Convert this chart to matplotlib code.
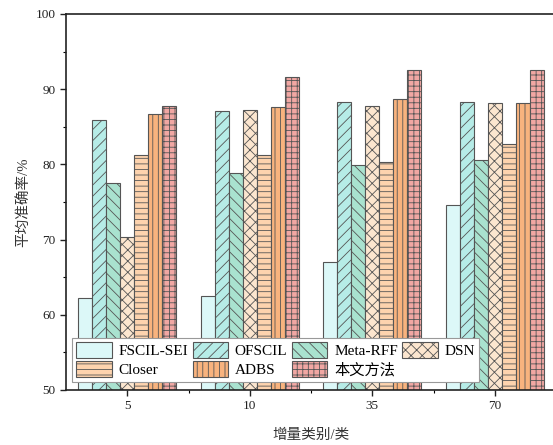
import numpy as np
import matplotlib
matplotlib.use('Agg')
import matplotlib.pyplot as plt
from matplotlib.ticker import MultipleLocator, FixedLocator

plt.rcParams['font.family'] = ['Liberation Serif', 'Noto Sans CJK SC']
plt.rcParams['hatch.linewidth'] = 0.6

categories = ['5', '10', '35', '70']
methods = ['FSCIL-SEI', 'OFSCIL', 'Meta-RFF', 'DSN', 'Closer', 'ADBS', '本文方法']
fscil_sei = [62.3, 62.5, 67.0, 74.6]
ofscil = [85.9, 87.1, 88.3, 88.3]
meta_rff = [77.5, 78.8, 79.9, 80.6]
dsn = [70.4, 87.3, 87.8, 88.1]
closer = [81.3, 81.2, 80.3, 82.7]
adbs = [86.7, 87.6, 88.7, 88.2]
ours = [87.8, 91.6, 92.6, 92.6]

series = [fscil_sei, ofscil, meta_rff, dsn, closer, adbs, ours]
colors = ['#dcf8f8', '#b6ece7', '#a9e2cf', '#fce6cf', '#fdd3ae', '#f8b37e', '#f1a7a3']
hatches = ['', '///', '\\\\\\', 'xxx', '---', '|||', '+++']

fig = plt.figure(figsize=(5.53, 4.45), dpi=100)
ax = fig.add_axes([66/553, 55/445, 490/553, 376/445])

x = np.arange(len(categories))
w = 0.114
bars = []
for i, (vals, c, h, name) in enumerate(zip(series, colors, hatches, methods)):
    b = ax.bar(x + (i - 3) * w, vals, width=w, color=c, hatch=h,
               edgecolor='#555555', linewidth=0.8, label=name, zorder=2)
    bars.append(b)

ax.set_xlim(-0.5, 3.5)
ax.set_ylim(50, 100)
ax.set_xticks(x)
ax.set_xticklabels(categories)
ax.xaxis.set_minor_locator(FixedLocator([0.5, 1.5, 2.5]))
ax.yaxis.set_major_locator(MultipleLocator(10))
ax.yaxis.set_minor_locator(MultipleLocator(5))
ax.tick_params(which='major', direction='out', length=4, width=1, labelsize=9.5, colors='#222222')
ax.tick_params(which='minor', direction='out', length=2, width=0.8)
for s in ax.spines.values():
    s.set_linewidth(1.2)
    s.set_color('#222222')
ax.spines['right'].set_visible(False)

ax.set_ylabel('平均准确率/%', fontsize=10.5, color='#333333', labelpad=4)
ax.set_xlabel('增量类别/类', fontsize=10.5, color='#333333', labelpad=12)

# row-major order for a 4-column legend
order = [0, 4, 1, 5, 2, 6, 3]
leg = ax.legend([bars[k] for k in order], [methods[k] for k in order],
                ncol=4, loc='lower left', bbox_to_anchor=(0.012, 0.022),
                fontsize=11, frameon=True, fancybox=False, framealpha=1,
                edgecolor='#999999', handlelength=2.3, handleheight=1.2,
                handletextpad=0.45, columnspacing=0.3, borderpad=0.3,
                labelspacing=0.2, borderaxespad=0)
leg.get_frame().set_linewidth(0.8)

fig.savefig('out.png', dpi=100)
